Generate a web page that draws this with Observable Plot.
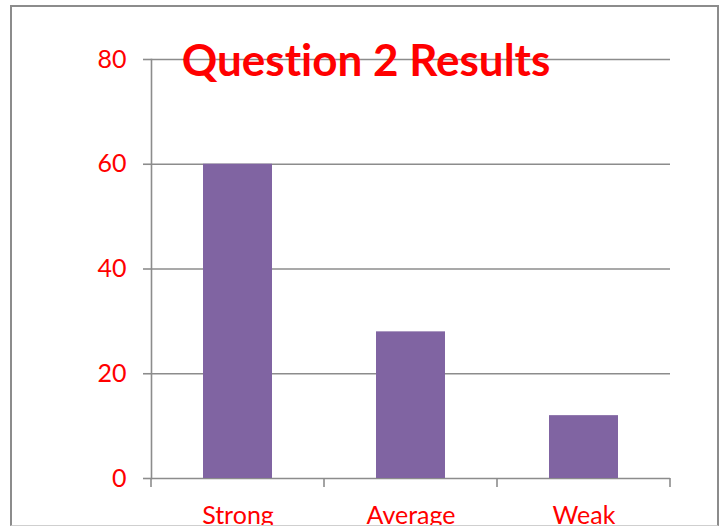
<!DOCTYPE html>
<html><head><meta charset="utf-8">
<script src="https://cdn.jsdelivr.net/npm/d3@7"></script>
<script src="https://cdn.jsdelivr.net/npm/@observablehq/plot@0.6"></script>
<style>
body{margin:0;background:#fff;}
#wrap{position:relative;width:723px;height:526px;overflow:hidden;}
#border{position:absolute;left:10px;top:5px;width:709px;height:521px;border:2px solid #8c8c8c;border-bottom:1px solid #cfcfcf;box-sizing:border-box;pointer-events:none;}
svg text{font-variant-ligatures:none;font-feature-settings:"liga" 0;}
</style>
</head><body>
<div id="wrap"><div id="chart"></div><div id="border"></div></div>
<script>
const categories = ["Strong", "Average", "Weak"];
const values = [60, 28, 12];
const yTicks = [0, 20, 40, 60, 80];
const title = "Question 2 Results";

const data = categories.map((c, i) => ({category: c, value: values[i]}));
const red = "#ff0000", gray = "#8c8c8c", purple = "#8064a2";

const chart = Plot.plot({
  width: 723, height: 526,
  marginLeft: 151, marginRight: 53, marginTop: 59, marginBottom: 48,
  style: {fontFamily: "Lato, 'Open Sans', sans-serif", background: "transparent", overflow: "visible"},
  x: {domain: categories, paddingInner: 0.6, paddingOuter: 0.3, label: null},
  y: {domain: [0, 80], label: null},
  marks: [
    Plot.ruleY(yTicks, {stroke: gray, strokeWidth: 1.6}),
    Plot.barY(data, {x: "category", y: "value", fill: purple}),
    Plot.axisY({ticks: yTicks, tickSize: 8, tickPadding: 17, stroke: gray, strokeWidth: 1.6, fill: red, fontSize: 25, label: null}),
    Plot.axisX({tickSize: 0, tickPadding: 28, fill: red, fontSize: 25, label: null}),
    Plot.frame({anchor: "left", stroke: gray, strokeWidth: 1.6}),
    Plot.text([title], {frameAnchor: "top", dx: -45, dy: 2, fill: red, fontSize: 44, fontWeight: "bold", lineAnchor: "middle"})
  ]
});

// category boundary ticks drawn from the band scale
const sx = chart.scale("x");
const sy = chart.scale("y");
const y0 = sy.apply(0);
const half = (sx.step - sx.bandwidth) / 2;
const bounds = categories.map(c => sx.apply(c) - half);
bounds.push(sx.apply(categories[categories.length - 1]) + sx.bandwidth + half);
const svg = d3.select(chart);
svg.append("g").selectAll("line").data(bounds).join("line")
  .attr("x1", d => d).attr("x2", d => d)
  .attr("y1", y0).attr("y2", y0 + 9)
  .attr("stroke", gray).attr("stroke-width", 1.6);

document.getElementById("chart").appendChild(chart);
</script>
</body></html>
